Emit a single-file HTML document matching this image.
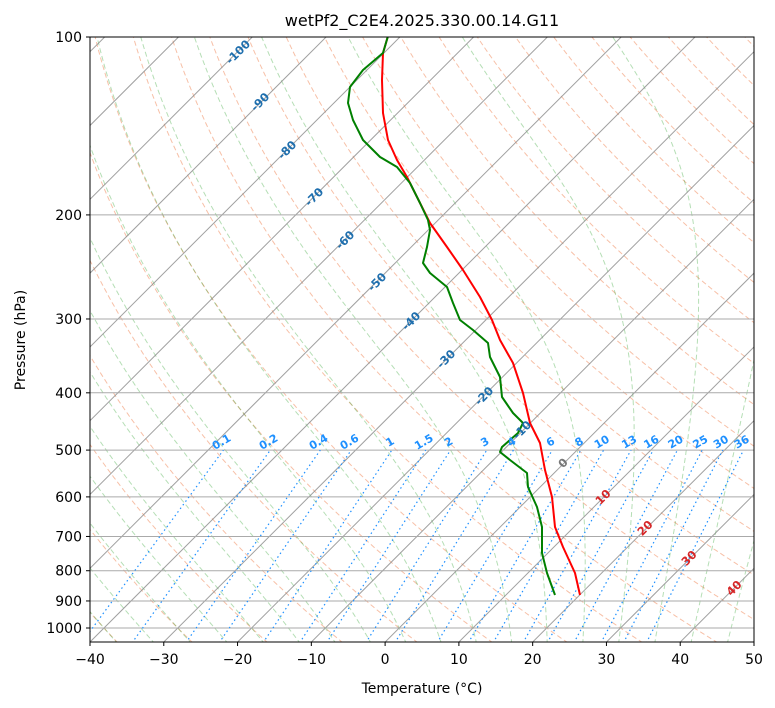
<!DOCTYPE html><html><head><meta charset="utf-8"><style>body{margin:0;background:#fff}svg{display:block;font-family:"DejaVu Sans","Liberation Sans",sans-serif}</style></head><body>
<svg id="s" width="775" height="708" xmlns="http://www.w3.org/2000/svg">
<defs><clipPath id="c"><rect x="90" y="37" width="664" height="605"/></clipPath></defs>
<rect width="775" height="708" fill="#fff"/>
<g id="bg" clip-path="url(#c)"></g>
<g clip-path="url(#c)" fill="none" stroke-width="2" stroke-linejoin="round">
<polyline stroke="#f00" points="580,595 575,573 563,547 555,527 552,497 545,470 540,443 530,423 523,393 513,363 500,340 492,320 480,297 463,270 447,247 430,223 417,197 407,177 397,160 388,140 383,113 382,80 383,53 388,36"/>
<polyline stroke="#008000" points="555,595 547,573 542,553 542,527 537,507 528,487 527,473 510,460 500,452 502,447 518,433 523,423 513,413 502,397 500,377 490,357 488,343 473,330 460,320 453,303 447,287 430,273 423,263 427,247 430,230 428,220 420,203 410,183 397,167 380,157 363,140 353,120 348,103 350,87 363,70 383,53 388,36"/>
</g>
<g id="lab"></g>
<rect x="90" y="37" width="664" height="605" fill="none" stroke="#000" stroke-width="1"/>
<text x="422" y="26" font-size="16" text-anchor="middle">wetPf2_C2E4.2025.330.00.14.G11</text>
<text x="422" y="693" font-size="14" text-anchor="middle">Temperature (°C)</text>
<text transform="translate(25,340) rotate(-90)" font-size="14" text-anchor="middle">Pressure (hPa)</text>
<g id="ax" font-size="14"></g>
</svg>
<script>
var NS="http://www.w3.org/2000/svg";
function Y(p){return 628+591*Math.log10(p/1000);}
function X(t,p){return 90+(t+40)*664/90+(642-Y(p));}
function el(par,tag,a,txt){var e=document.createElementNS(NS,tag);for(var k in a)e.setAttribute(k,a[k]);if(txt!=null)e.textContent=txt;document.getElementById(par).appendChild(e);return e;}
function line(pts,st){el("bg","polyline",Object.assign({points:pts.map(function(q){return q[0].toFixed(1)+","+q[1].toFixed(1)}).join(" "),fill:"none"},st));}
var ps=[];for(var p=1060;p>=95;p-=5)ps.push(p);
for(var th=-50;th<=220;th+=10){line(ps.map(function(p){var t=(th+273.15)*Math.pow(p/1000,0.2857)-273.15;return[X(t,p),Y(p)]}),{stroke:"#f4a582","stroke-width":1,"stroke-dasharray":"5,3",opacity:0.7});}
function es(t){return 6.112*Math.exp(17.67*t/(t+243.5));}
function gm(t,p){var T=t+273.15,e=es(t),rs=0.622*e/(p-e),Lv=2.501e6,Rd=287,cp=1005;return (Rd*T+Lv*rs)/(cp+Lv*Lv*rs*0.622/(Rd*T*T))/p;}
for(var t0=-40;t0<=50;t0+=5){
 var up=[],tt=t0;for(var p=1000;p>=95;p-=2.5){up.push([X(tt,p),Y(p)]);tt-=gm(tt,p)*2.5;}
 var dn=[],td=t0;for(var p=1000;p<=1065;p+=2.5){dn.unshift([X(td,p),Y(p)]);td+=gm(td,p)*2.5;}
 line(dn.concat(up),{stroke:"#2ca02c","stroke-width":1,"stroke-dasharray":"5,3",opacity:0.35});}
for(var t=-120;t<=50;t+=10){line([[X(t,1060),Y(1060)],[X(t,95),Y(95)]],{stroke:"#888","stroke-width":1,opacity:0.8});}
[100,200,300,400,500,600,700,800,900,1000].forEach(function(p){line([[90,Y(p)],[754,Y(p)]],{stroke:"#aaa","stroke-width":1});});
var W=[0.1,0.2,0.4,0.6,1,1.5,2,3,4,6,8,10,13,16,20,25,30,36];
function tdw(w,p){w/=1000;var e=p*w/(0.622+w),l=Math.log(e/6.112);return 243.5*l/(17.67-l);}
W.forEach(function(w){line([1060,500].map(function(p){return[X(tdw(w,p),p),Y(p)]}),{stroke:"#1e90ff","stroke-width":1.2,"stroke-dasharray":"1.5,3"});
 var x=X(tdw(w,500),500),y=Y(500)-5;el("lab","text",{x:x,y:y,"font-size":11,"font-weight":"bold",fill:"#1e90ff","text-anchor":"middle",transform:"rotate(-30 "+x+" "+y+")"},String(w));});
[[-100,238,52],[-90,260,102],[-80,287,150],[-70,314,197],[-60,345,240],[-50,377,282],[-40,411,321],[-30,446,359],[-20,484,396],[-10,522,430]].forEach(function(a){el("lab","text",{x:a[1],y:a[2]+4,"font-size":11.5,"font-weight":"bold",fill:"#1f6fae","text-anchor":"middle",transform:"rotate(-45 "+a[1]+" "+a[2]+")"},String(a[0]));});
[[10,603,497],[20,645,528],[30,689,558],[40,734,588]].forEach(function(a){el("lab","text",{x:a[1],y:a[2]+4,"font-size":11.5,"font-weight":"bold",fill:"#d62728","text-anchor":"middle",transform:"rotate(-45 "+a[1]+" "+a[2]+")"},String(a[0]));});
el("lab","text",{x:563,y:467,"font-size":11.5,"font-weight":"bold",fill:"#777","text-anchor":"middle",transform:"rotate(-45 563 463)"},"0");
[100,200,300,400,500,600,700,800,900,1000].forEach(function(p){var y=Y(p);el("ax","line",{x1:86,x2:90,y1:y,y2:y,stroke:"#000"});el("ax","text",{x:82,y:y+5,"text-anchor":"end"},String(p));});
for(var t=-40;t<=50;t+=10){var x=90+(t+40)*664/90;el("ax","line",{x1:x,x2:x,y1:642,y2:646,stroke:"#000"});el("ax","text",{x:x,y:664,"text-anchor":"middle"},(t<0?"−":"")+Math.abs(t));}
</script>
</body></html>
